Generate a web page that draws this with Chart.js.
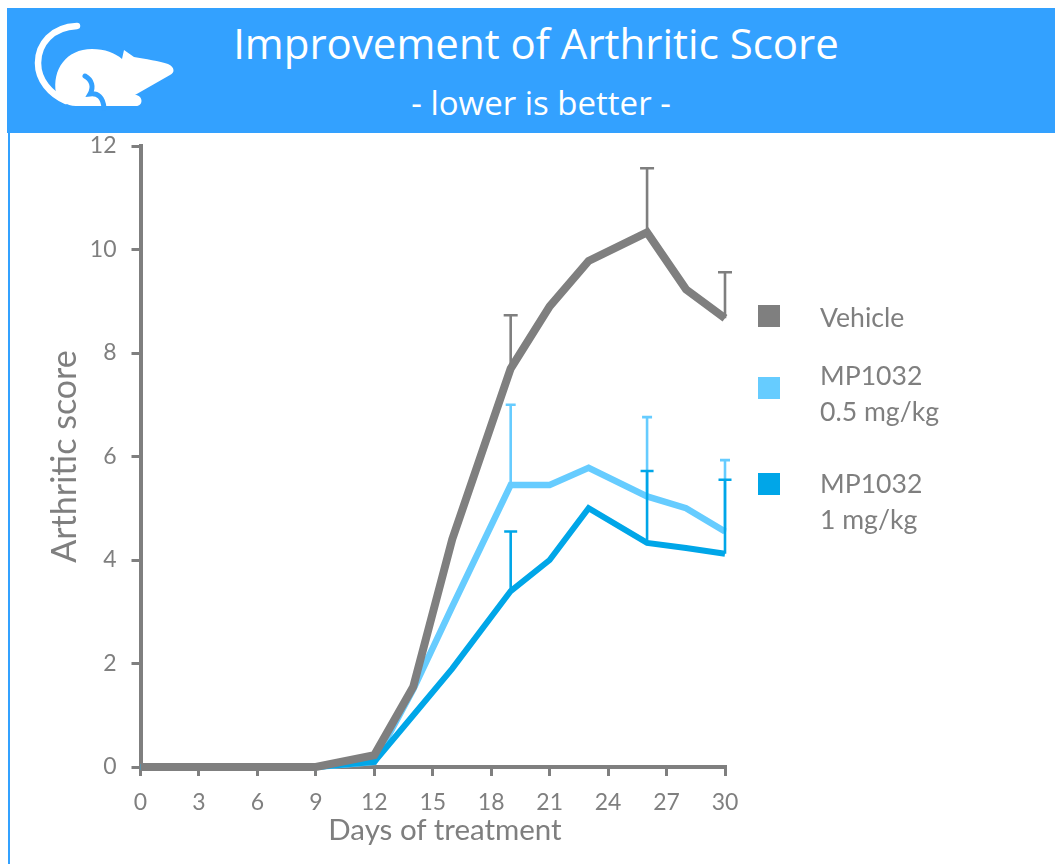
<!DOCTYPE html>
<html>
<head>
<meta charset="utf-8">
<title>Improvement of Arthritic Score</title>
<script src="https://cdn.jsdelivr.net/npm/chart.js@4/dist/chart.umd.min.js"></script>
<style>
html,body{margin:0;padding:0;background:#fff}
body{width:1055px;height:864px;position:relative;overflow:hidden;font-family:Lato,sans-serif}
#band{position:absolute;left:7px;top:8px;width:1048px;height:125px;background:#33a1ff;color:#fff;text-align:center}
#band div{position:absolute;left:0;width:1058px;white-space:nowrap}
#title{top:8px;font:400 42px/54px "Open Sans",sans-serif}
#subtitle{top:75px;margin-left:5px;font:400 33px/40px "Open Sans",sans-serif}
#leftline{position:absolute;left:8px;top:133px;width:2px;height:731px;background:#33a1ff}
#mouse{position:absolute;left:0;top:0}
#chart{position:absolute;left:0;top:0}
#xtitle{position:absolute;left:245px;width:400px;top:812px;text-align:center;font-size:29.5px;line-height:34px;color:#7f7f7f}
.key{position:absolute;left:758px;width:22px;height:22px}
.keytext{position:absolute;left:820px;font-size:26.6px;line-height:36px;color:#7f7f7f;white-space:nowrap}
</style>
</head>
<body>
<canvas id="chart" width="1055" height="864"></canvas>
<div id="leftline"></div>
<div id="band">
<div id="title">Improvement of Arthritic Score</div>
<div id="subtitle">- lower is better -</div>
</div>
<svg id="mouse" width="200" height="130">
<path d="M77 26C52 27 38 44 38 63C38 80 50 94 66 101" fill="none" stroke="#fff" stroke-width="6.5" stroke-linecap="round"/>
<path d="M56 93C52 70 66 49 92 49C105 49 115 53 122 59L124 50L134 57C145 59 160 61 168 64C175 67 175 73 170 75L135 95C143 95 144 106 136 106L106 106L76 106C66 106 60 100 56 93Z" fill="#fff"/>
<path d="M85 76C92 80 94 87 90 94C98 93 103 97 104 108" fill="none" stroke="#33a1ff" stroke-width="5" stroke-linecap="round"/>
</svg>
<div id="xtitle">Days of treatment</div>
<div id="legend"></div>
<script>
let days=[0,3,6,9,12,14,16,19,21,23,26,28,30]
let vehicle=[0,0,0,0,0.23,1.55,4.4,7.7,8.9,9.78,10.33,9.23,8.67]
let low=[0,0,0,0,0.1,1.5,3.1,5.45,5.45,5.78,5.23,5,4.55]
let high=[0,0,0,0,0.1,1,1.9,3.4,4,5,4.33,4.23,4.12]
let errDays=[19,26,30]
let vehicleTop=[8.73,11.57,9.56]
let lowTop=[7,6.76,5.93]
let highTop=[4.55,5.72,5.55]
let seriesNames=["Vehicle","MP1032 0.5 mg/kg","MP1032 1 mg/kg"]
let legendLines=[["Vehicle"],["MP1032","0.5 mg/kg"],["MP1032","1 mg/kg"]]
let colors=["#7f7f7f","#66ccff","#00a6e8"]
let grey="#7f7f7f"

function points(ys){
return days.map((d,i)=>({x:d,y:ys[i]}))
}

// error bars only go upwards, same colour as their line
let errorBars={
id:"errorBars",
afterDatasetsDraw(chart){
let ctx=chart.ctx
let x=chart.scales.x
let y=chart.scales.y
let tops=[vehicleTop,lowTop,highTop]
let caps=[7,5,6.5]
tops.forEach((top,s)=>{
let values=[vehicle,low,high][s]
ctx.save()
ctx.strokeStyle=colors[s]
ctx.lineWidth=2.6
errDays.forEach((d,i)=>{
let px=x.getPixelForValue(d)
let from=y.getPixelForValue(values[days.indexOf(d)])
let to=y.getPixelForValue(top[i])
ctx.beginPath()
ctx.moveTo(px,from)
ctx.lineTo(px,to)
ctx.moveTo(px-caps[s],to)
ctx.lineTo(px+caps[s],to)
ctx.stroke()
})
ctx.restore()
})
}
}

new Chart(document.getElementById("chart"),{
type:"line",
data:{
datasets:[
{label:seriesNames[0],data:points(vehicle),borderColor:colors[0],borderWidth:8,order:1},
{label:seriesNames[2],data:points(high),borderColor:colors[2],borderWidth:6,order:2},
{label:seriesNames[1],data:points(low),borderColor:colors[1],borderWidth:6.5,order:3}
]
},
options:{
responsive:false,
animation:false,
clip:false,
layout:{padding:{left:0,top:146,right:330,bottom:0}},
elements:{
point:{radius:0},
line:{tension:0,borderJoinStyle:"miter",borderCapStyle:"butt"}
},
plugins:{legend:{display:false},tooltip:{enabled:false}},
scales:{
x:{
type:"linear",
min:0,
max:30,
afterFit(scale){scale.height=97},
grid:{drawOnChartArea:false,color:grey,lineWidth:3,tickLength:9},
border:{color:grey,width:4},
ticks:{stepSize:3,color:grey,maxRotation:0,padding:13,font:{family:"Lato",size:23}}
},
y:{
min:0,
max:12,
afterFit(scale){scale.width=140.5},
grid:{drawOnChartArea:false,color:grey,lineWidth:3,tickLength:9},
border:{color:grey,width:4},
ticks:{stepSize:2,color:grey,padding:15,font:{family:"Lato",size:23}},
title:{display:true,text:"Arthritic score",color:grey,padding:{top:45,bottom:0},font:{family:"Lato",size:34}}
}
}
},
plugins:[errorBars]
})

let keyTops=[305,377,473]
let textTops=[299,357,465]
let legend=document.getElementById("legend")
legendLines.forEach((lines,i)=>{
let key=document.createElement("div")
key.className="key"
key.style.top=keyTops[i]+"px"
key.style.background=colors[i]
legend.appendChild(key)
let text=document.createElement("div")
text.className="keytext"
text.style.top=textTops[i]+"px"
text.innerHTML=lines.join("<br>")
legend.appendChild(text)
})
</script>
</body>
</html>
